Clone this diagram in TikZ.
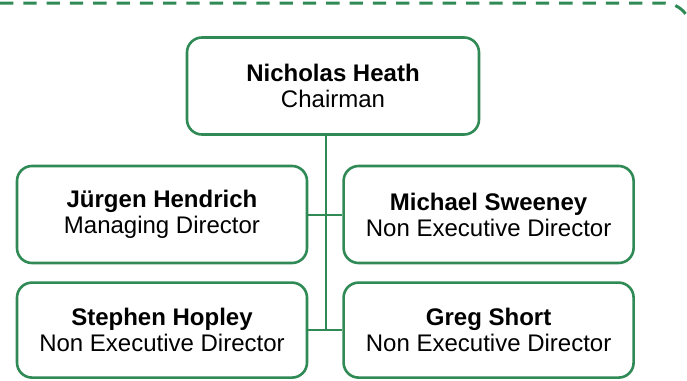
\documentclass[tikz,border=0pt]{standalone}
\usepackage{fontspec}
\setmainfont{Liberation Sans}
\usetikzlibrary{positioning}
\definecolor{boardgreen}{RGB}{47,138,85}

\begin{document}
\begin{tikzpicture}[x=1pt, y=-1pt,
  person/.style={rectangle, draw=boardgreen, line width=2.6pt, fill=white, rounded corners=15pt,
                 align=center, minimum width=290pt, minimum height=97pt, inner sep=0pt},
  link/.style={draw=boardgreen, line width=2pt},
  frameline/.style={draw=boardgreen, line width=3pt, dash pattern=on 13.3pt off 10pt, rounded corners=27pt},
  every node/.style={font=\fontsize{24}{26}\selectfont}
]
\clip (0,0) rectangle (687,380);

% ==========================================================
% Frame
% ==========================================================
\draw[frameline] (0,3) -- (691,3) -- (691,80);

% ==========================================================
% Board members
% ==========================================================
\node[person, minimum width=292pt] (chair) at (333,86) {\textbf{Nicholas Heath}\\Chairman};
\node[person] (jurgen) at (162,214.5) {\textbf{Jürgen Hendrich}\\Managing Director};
\node[person, right=34pt of jurgen] (michael) {\textbf{Michael Sweeney}\\Non Executive Director};
\node[person, below=17pt of jurgen, minimum height=95pt] (stephen) {\textbf{Stephen Hopley}\\Non Executive Director};
\node[person, right=34pt of stephen, minimum height=95pt] (greg) {\textbf{Greg Short}\\Non Executive Director};

% ==========================================================
% Lines
% ==========================================================
\coordinate (trunk) at (326,331);
\draw[link] (chair.south -| trunk) -- (trunk);
\draw[link] (jurgen.east) -- (michael.west);
\draw[link] (stephen.east) -- (greg.west);

\end{tikzpicture}
\end{document}
